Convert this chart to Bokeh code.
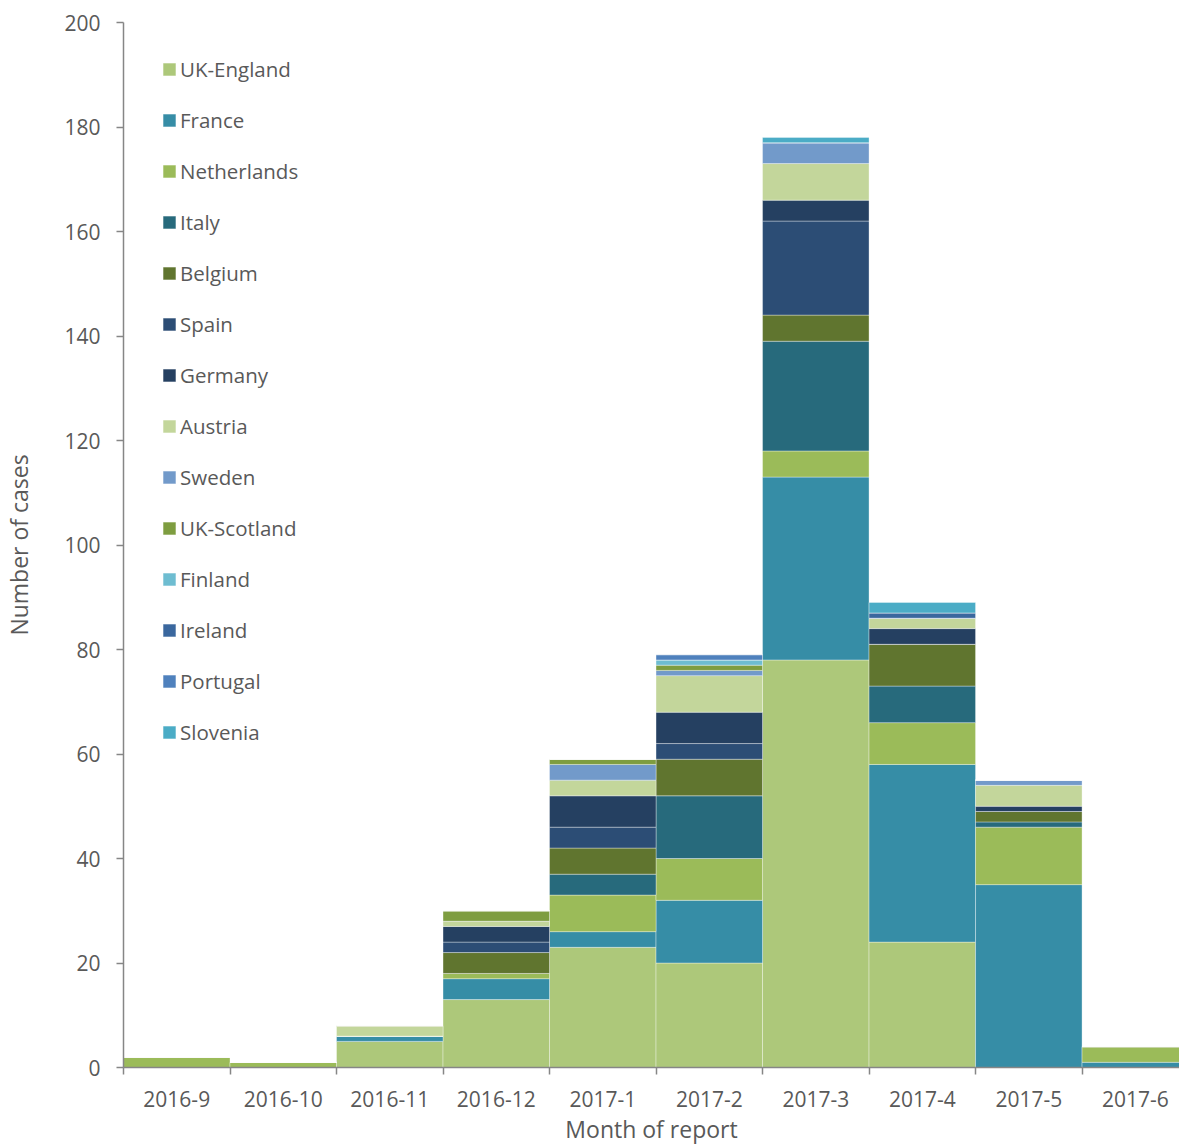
from bokeh.plotting import figure
from bokeh.models import Range1d, FixedTicker, Legend, LegendItem, ColumnDataSource
from bokeh.embed import file_html
from bokeh.resources import INLINE

months = ["2016-9", "2016-10", "2016-11", "2016-12", "2017-1", "2017-2",
          "2017-3", "2017-4", "2017-5", "2017-6"]
countries = ["UK-England", "France", "Netherlands", "Italy", "Belgium", "Spain",
             "Germany", "Austria", "Sweden", "UK-Scotland", "Finland", "Ireland",
             "Portugal", "Slovenia"]

uk_england = [0, 0, 5, 13, 23, 20, 78, 24, 0, 0]
france = [0, 0, 1, 4, 3, 12, 35, 34, 35, 1]
netherlands = [2, 1, 0, 1, 7, 8, 5, 8, 11, 3]
italy = [0, 0, 0, 0, 4, 12, 21, 7, 1, 0]
belgium = [0, 0, 0, 4, 5, 7, 5, 8, 2, 0]
spain = [0, 0, 0, 2, 4, 3, 18, 0, 0, 0]
germany = [0, 0, 0, 3, 6, 6, 4, 3, 1, 0]
austria = [0, 0, 2, 1, 3, 7, 7, 2, 4, 0]
sweden = [0, 0, 0, 0, 3, 1, 4, 0, 1, 0]
uk_scotland = [0, 0, 0, 2, 1, 1, 0, 0, 0, 0]
finland = [0, 0, 0, 0, 0, 1, 0, 0, 0, 0]
ireland = [0, 0, 0, 0, 0, 0, 0, 1, 0, 0]
portugal = [0, 0, 0, 0, 0, 1, 0, 0, 0, 0]
slovenia = [0, 0, 0, 0, 0, 0, 1, 2, 0, 0]

series = [uk_england, france, netherlands, italy, belgium, spain, germany,
          austria, sweden, uk_scotland, finland, ireland, portugal, slovenia]

colors = ["#ADC87A", "#368DA6", "#9BBB59", "#276A7C", "#60752F", "#2C4D75",
          "#254061", "#C3D69B", "#729ACA", "#7E9D40", "#6EBDD1", "#3A679E",
          "#4F81BD", "#4BACC6"]

centers = [i + 0.5 for i in range(len(months))]
bounds = [float(i) for i in range(len(months) + 1)]

data = {"x": centers}
for c, s in zip(countries, series):
    data[c] = s
source = ColumnDataSource(data)

FONT = "Open Sans"
GRAY_TXT = "#595959"
GRAY_AX = "#868686"

p = figure(width=1179, height=1147, output_backend="svg", toolbar_location=None,
           x_range=Range1d(0, 9.915), y_range=Range1d(0, 200),
           min_border_left=122, min_border_right=0, min_border_top=22,
           min_border_bottom=80)
p.outline_line_color = None
p.xgrid.visible = False
p.ygrid.visible = False

renderers = p.vbar_stack(countries, x="x", width=1.0, source=source, color=colors,
                         line_color="white", line_alpha=0.35, line_width=1)

items = [LegendItem(label=c, renderers=[r]) for c, r in zip(countries, renderers)]
legend = Legend(items=items, location=(38, 320), margin=0, padding=0,
                spacing=21, label_height=30, glyph_height=16, glyph_width=16,
                label_standoff=3, label_text_font=FONT, label_text_font_size="20.5px",
                label_text_color=GRAY_TXT, background_fill_alpha=0,
                border_line_alpha=0)
p.add_layout(legend)

# x axis
xa = p.xaxis[0]
xa.ticker = FixedTicker(ticks=centers, minor_ticks=bounds)
xa.major_label_overrides = {c: m for c, m in zip(centers, months)}
xa.major_tick_out = 0
xa.major_tick_in = 0
xa.minor_tick_out = 7
xa.minor_tick_in = 0
xa.minor_tick_line_color = GRAY_AX
xa.minor_tick_line_width = 1.5
xa.axis_line_color = GRAY_AX
xa.axis_line_width = 1.5
xa.major_label_text_font = FONT
xa.major_label_text_font_size = "21px"
xa.major_label_text_color = GRAY_TXT
xa.major_label_standoff = 16
xa.axis_label = "Month of report"
xa.axis_label_text_font = FONT
xa.axis_label_text_font_size = "23px"
xa.axis_label_text_font_style = "normal"
xa.axis_label_text_color = GRAY_TXT
xa.axis_label_standoff = 3

# y axis
ya = p.yaxis[0]
ya.ticker = FixedTicker(ticks=list(range(0, 201, 20)), minor_ticks=[])
ya.major_tick_out = 7
ya.major_tick_in = 0
ya.major_tick_line_color = GRAY_AX
ya.major_tick_line_width = 1.5
ya.axis_line_color = GRAY_AX
ya.axis_line_width = 1.5
ya.major_label_text_font = FONT
ya.major_label_text_font_size = "21px"
ya.major_label_text_color = GRAY_TXT
ya.major_label_standoff = 16
ya.axis_label = "Number of cases"
ya.axis_label_text_font = FONT
ya.axis_label_text_font_size = "23px"
ya.axis_label_text_font_style = "normal"
ya.axis_label_text_color = GRAY_TXT
ya.axis_label_standoff = 26

open("out.html", "w").write(file_html(p, INLINE))
